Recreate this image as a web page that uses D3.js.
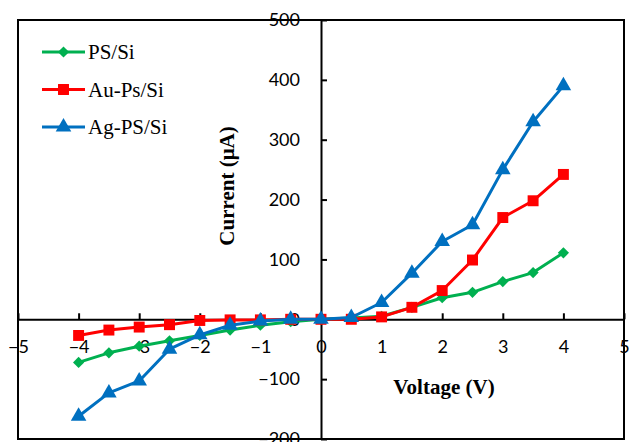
<!DOCTYPE html>
<html>
<head>
<meta charset="utf-8">
<script src="https://cdn.jsdelivr.net/npm/d3@7"></script>
<style>
  body { margin: 0; background: #fff; }
  .tick text { font-family: Lato, "Open Sans", sans-serif; font-size: 18px; fill: #000; }
</style>
</head>
<body>
<script>
let w = 630;
let h = 442;

// voltage steps (V)
let voltages = [-4, -3.5, -3, -2.5, -2, -1.5, -1, -0.5, 0, 0.5, 1, 1.5, 2, 2.5, 3, 3.5, 4];
// current (uA) for each sample
let psSi   = [-72, -56, -45, -36, -27, -18, -10, -4, 0, 2, 5, 20, 36, 45, 63, 78, 111];
let auPsSi = [-27, -18, -13, -9, -2, -1, -1, 0, 0, 0, 4, 20, 48, 99, 170, 198, 242];
let agPsSi = [-162, -123, -103, -50, -26, -10, -3, 0, 0, 3, 28, 77, 130, 158, 250, 330, 390];

let seriesNames = ["PS/Si", "Au-Ps/Si", "Ag-PS/Si"];
let seriesColors = ["#00B050", "#FF0000", "#0070C0"];
let seriesShapes = [d3.symbolDiamond2, d3.symbolSquare, d3.symbolTriangle];
let seriesSizes = [80, 120, 105];
let seriesValues = [psSi, auPsSi, agPsSi];

let xTicks = [-5, -4, -3, -2, -1, 0, 1, 2, 3, 4, 5];
let yTicks = [-200, -100, 0, 100, 200, 300, 400, 500];

let xScale = d3.scaleLinear().domain([-5, 5]).range([18, 624]);
let yScale = d3.scaleLinear().domain([-200, 500]).range([439, 20]);

let svg = d3.select("body").append("svg")
  .attr("width", w)
  .attr("height", h);

// plot area border
svg.append("rect")
  .attr("x", xScale(-5))
  .attr("y", yScale(500))
  .attr("width", xScale(5) - xScale(-5))
  .attr("height", yScale(-200) - yScale(500))
  .attr("fill", "none")
  .attr("stroke", "#000")
  .attr("stroke-width", 2);

let xAxis = d3.axisBottom(xScale).tickValues(xTicks).tickSizeInner(-6).tickSizeOuter(0).tickPadding(21);
let yAxis = d3.axisLeft(yScale).tickValues(yTicks).tickSizeInner(-6).tickSizeOuter(0).tickPadding(21);

let gx = svg.append("g")
  .attr("transform", "translate(0," + yScale(0) + ")")
  .call(xAxis);
let gy = svg.append("g")
  .attr("transform", "translate(" + xScale(0) + ",0)")
  .call(yAxis);

[gx, gy].forEach(g => {
  g.select(".domain").attr("stroke", "#000").attr("stroke-width", 2);
  g.selectAll(".tick line").attr("stroke", "#000").attr("stroke-width", 2);
});

// axis titles
svg.append("text")
  .attr("transform", "translate(234," + 186 + ") rotate(-90)")
  .attr("text-anchor", "middle")
  .style("font-family", "'Liberation Serif', 'Times New Roman', serif")
  .style("font-weight", "bold")
  .style("font-size", "21px")
  .text("Current (μA)");

svg.append("text")
  .attr("x", 444)
  .attr("y", 394)
  .attr("text-anchor", "middle")
  .style("font-family", "'Liberation Serif', 'Times New Roman', serif")
  .style("font-weight", "bold")
  .style("font-size", "21px")
  .text("Voltage (V)");

// series
seriesValues.forEach((vals, s) => {
  let pts = voltages.map((v, i) => [v, vals[i]]);
  let line = d3.line().x(d => xScale(d[0])).y(d => yScale(d[1]));
  svg.append("path")
    .datum(pts)
    .attr("d", line)
    .attr("fill", "none")
    .attr("stroke", seriesColors[s])
    .attr("stroke-width", 3)
    .attr("stroke-linejoin", "round");
  svg.selectAll(".m" + s)
    .data(pts)
    .enter()
    .append("path")
    .attr("class", "m" + s)
    .attr("transform", d => "translate(" + xScale(d[0]) + "," + yScale(d[1]) + ")")
    .attr("d", d3.symbol().type(seriesShapes[s]).size(seriesSizes[s]))
    .attr("fill", seriesColors[s]);
});

// legend
let legend = svg.append("g").attr("id", "legend");
let rows = legend.selectAll("g")
  .data(seriesNames)
  .enter()
  .append("g")
  .attr("transform", (d, i) => "translate(0," + (52 + i * 37.5) + ")");
rows.append("line")
  .attr("x1", 42).attr("x2", 85)
  .attr("stroke", (d, i) => seriesColors[i])
  .attr("stroke-width", 3);
rows.append("path")
  .attr("transform", "translate(63.5,0)")
  .attr("d", (d, i) => d3.symbol().type(seriesShapes[i]).size(seriesSizes[i])())
  .attr("fill", (d, i) => seriesColors[i]);
rows.append("text")
  .attr("x", 88)
  .attr("y", 7)
  .style("font-family", "'Liberation Serif', 'Times New Roman', serif")
  .style("font-size", "21px")
  .text(d => d);
</script>
</body>
</html>
